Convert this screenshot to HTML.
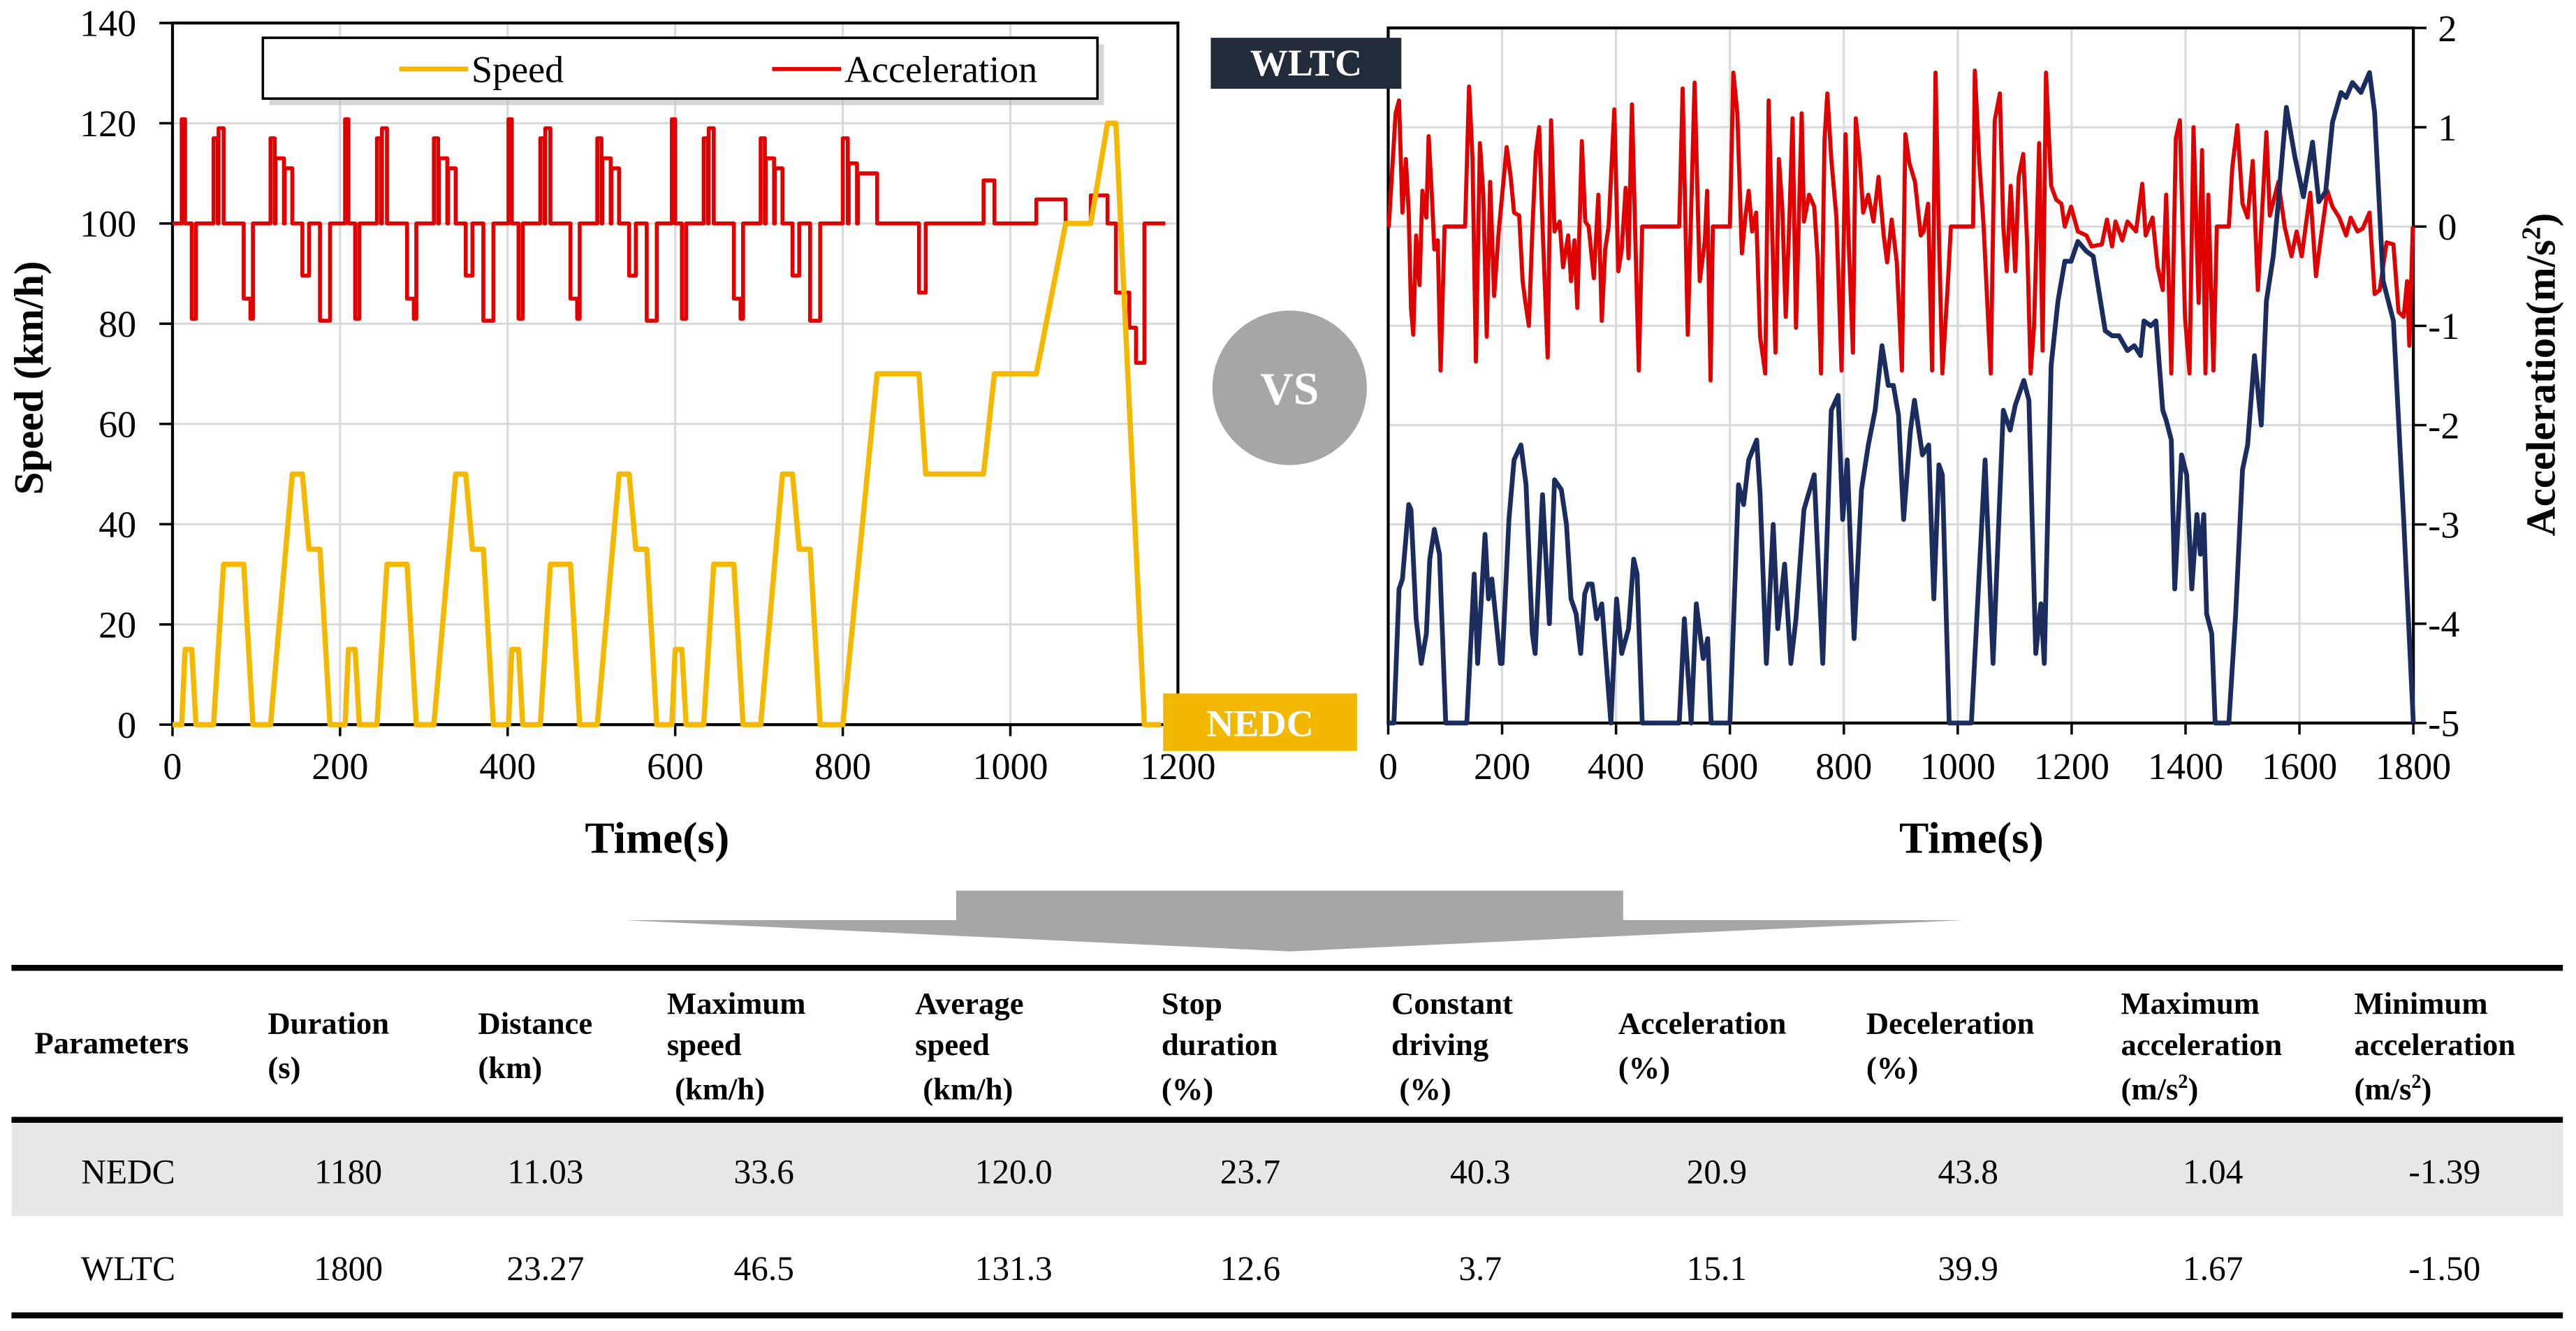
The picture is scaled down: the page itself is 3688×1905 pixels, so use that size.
<!DOCTYPE html>
<html><head><meta charset="utf-8"><style>
html,body{margin:0;padding:0;background:#fff}
svg{display:block;font-family:"Liberation Serif","DejaVu Serif",serif}
svg text{font-family:"Liberation Serif","DejaVu Serif",serif}
</style></head><body>
<svg id="fig" xmlns="http://www.w3.org/2000/svg" width="3688" height="1905" viewBox="0 0 1568 810" preserveAspectRatio="none" font-family="Liberation Serif, DejaVu Serif, serif">
<g id="left"></g>
<g id="right"></g>
<g id="mid">
  <rect x="737" y="23" width="116" height="31" fill="#222b3a"/>
  <text x="795" y="46" text-anchor="middle" font-size="23" font-weight="bold" fill="#fff">WLTC</text>
  <ellipse cx="785" cy="236" rx="47" ry="47" fill="#a6a6a6"/>
  <text x="785" y="246" text-anchor="middle" font-size="28" font-weight="bold" fill="#fff">VS</text>
  <polygon points="582,542 988,542 988,560 1195,560 785,579 380,560 582,560" fill="#a6a6a6"/>
</g>
<g id="table"></g>
</svg>
<script>
// ---------- DATA ----------
const nedcTimes = [0,11,15,23,28,49,61,85,96,117,143,155,163,176,188,195,
 206,210,218,223,244,256,280,291,312,338,350,358,371,383,390,
 401,405,413,418,439,451,475,486,507,533,545,553,566,578,585,
 596,600,608,613,634,646,670,681,702,728,740,748,761,773,780,
 800,841,891,899,968,981,1031,1066,1096,1116,1126,1160,1180];
const nedcSpeed = [0,0,15,15,0,0,32,32,0,0,50,50,35,35,0,0,
 0,15,15,0,0,32,32,0,0,50,50,35,35,0,0,
 0,15,15,0,0,32,32,0,0,50,50,35,35,0,0,
 0,15,15,0,0,32,32,0,0,50,50,35,35,0,0,
 0,70,70,50,50,70,70,100,100,120,120,0,0];
const nedcAccT = [0,11,15,23,28,49,54,55,61,85,93,96,117,122,123,133,134,143,155,163,176,188,
 206,210,218,223,244,249,250,256,280,288,291,312,317,318,328,329,338,350,358,371,383,
 401,405,413,418,439,444,445,451,475,483,486,507,512,513,523,524,533,545,553,566,578,
 596,600,608,613,634,639,640,646,670,678,681,702,707,708,718,719,728,740,748,761,773,
 800,806,807,817,818,841,891,899,968,981,1031,1066,1096,1116,1126,1142,1150,1160,1185];
const nedcAcc = [0,1.04,0,-0.95,0,0.85,0,0.95,0,-0.75,-0.95,0,0.85,0,0.65,0,0.55,0,-0.52,0,-0.97,0,
 1.04,0,-0.95,0,0.85,0,0.95,0,-0.75,-0.95,0,0.85,0,0.65,0,0.55,0,-0.52,0,-0.97,0,
 1.04,0,-0.95,0,0.85,0,0.95,0,-0.75,-0.95,0,0.85,0,0.65,0,0.55,0,-0.52,0,-0.97,0,
 1.04,0,-0.95,0,0.85,0,0.95,0,-0.75,-0.95,0,0.85,0,0.65,0,0.55,0,-0.52,0,-0.97,0,
 0.85,0,0.6,0,0.5,0,-0.69,0,0.43,0,0.24,0,0.28,0,-0.69,-1.04,-1.39,0,0];
const wltcTimes = [0,10,19,25,36,40,49,52,58,67,73,81,90,101,138,151,157,170,176,182,197,200,212,221,233,242,253,258,271,283,292,304,313,321,330,338,345,351,358,366,375,391,401,410,422,431,437,446,511,520,532,541,553,561,567,600,615,624,633,647,653,664,676,684,696,707,716,730,748,763,778,790,798,806,818,831,843,855,867,878,887,896,905,917,924,938,949,958,967,973,985,1024,1048,1062,1080,1092,1101,1116,1125,1137,1146,1152,1164,1176,1188,1199,1211,1226,1238,1259,1271,1283,1298,1310,1321,1327,1339,1348,1360,1366,1375,1381,1393,1402,1411,1420,1426,1432,1437,1446,1452,1476,1488,1500,1509,1521,1533,1542,1554,1563,1577,1592,1607,1623,1634,1646,1658,1673,1682,1693,1708,1723,1732,1747,1765,1783,1800];
const wltcSpeed = [0,0,27,29,44,43,21,18,12,18,33,39,34,0,0,30,12,38,25,29,12,12,41,53,56,48,18,14,46,20,49,47,40,25,22,14,26,28,28,21,24,0,25,14,19,33,30,0,0,21,0,24,13,17,0,0,48,44,53,57,46,12,40,19,32,12,21,43,50,12,63,66,41,53,17,47,56,63,76,68,68,62,41,59,65,54,56,25,52,50,0,0,53,12,63,59,64,69,65,14,24,12,72,85,93,93,97,95,94,79,78,78,75,76,74,81,80,81,63,61,57,27,54,50,27,42,34,42,22,18,0,0,22,51,56,74,60,85,94,105,124,114,106,117,105,107,121,127,126,129,127,131,123,89,81,41,0];
const wltcAccT = [0,1,13,19,25,31,36,40,44,49,55,60,67,71,77,81,87,92,99,135,142,148,154,161,167,173,179,186,194,208,215,221,230,236,241,247,253,259,265,271,280,286,292,301,307,316,321,327,332,340,346,352,361,369,375,381,387,397,404,410,417,422,428,434,440,446,511,517,526,538,547,556,560,566,570,600,606,613,621,627,633,639,646,653,662,668,674,680,686,692,698,704,710,716,726,730,739,748,754,760,766,771,778,787,796,803,809,816,821,828,834,843,852,861,870,876,884,893,902,908,915,925,935,940,948,955,961,967,973,982,988,1027,1030,1038,1045,1058,1065,1074,1080,1086,1093,1101,1107,1115,1122,1128,1134,1143,1149,1155,1164,1173,1182,1188,1199,1211,1226,1235,1253,1262,1271,1277,1289,1298,1313,1324,1330,1342,1351,1360,1366,1375,1383,1390,1399,1407,1414,1423,1429,1435,1440,1449,1455,1476,1482,1491,1500,1509,1518,1527,1542,1548,1563,1574,1586,1595,1604,1613,1619,1629,1637,1649,1658,1670,1682,1690,1702,1711,1723,1732,1741,1753,1765,1774,1783,1789,1793,1799];
const wltcAcc = [0,0,1.14,1.27,0.14,0.68,0.14,-0.82,-1.09,-0.09,-0.59,0.36,0.09,0.91,0.27,-0.23,-0.14,-1.45,0,0,1.41,0.68,-1.36,0.84,0.32,-1.11,0.45,-0.70,-0.05,0.80,0.50,0.14,0.11,-0.55,-0.77,-1.00,-0.05,0.73,1.00,0,-1.32,1.07,-0.05,0.05,-0.41,-0.09,-0.55,-0.14,-0.82,0.86,0.05,0,-0.52,0.32,-0.95,-0.23,0,1.18,-0.45,-0.23,0.39,-0.32,1.23,-0.14,-1.45,0,0,1.39,-1.09,1.45,-0.55,-0.14,0.36,-1.55,0,0,1.55,1.14,-0.27,0.09,0.36,-0.05,0.14,-1.11,-1.48,1.27,0,-1.27,0.68,0.18,-0.91,0,1.09,-1.02,1.14,0.05,0.32,0.20,-0.32,-1.48,0.86,1.34,0.68,0.09,-1.45,0.93,-0.23,-1.27,1.09,0.68,0.14,0.32,0.05,0.50,-0.09,-0.36,0.07,-0.36,-1.45,0.93,0.64,0.45,-0.09,-0.05,0.23,-1.45,1.55,-0.09,-1.48,-0.64,0,0,1.57,0.64,0.05,-1.48,1.07,1.34,0,-0.45,0.41,-0.45,0.50,0.73,-0.18,-1.48,-1.00,0.84,-1.25,1.55,0.41,0.27,0.23,0,0.20,-0.05,-0.09,-0.20,-0.18,0.07,-0.20,0.05,-0.14,0.05,-0.05,0.43,-0.09,0.09,-0.41,-0.64,0.32,-1.48,0.89,1.07,-0.91,-1.48,1.00,-0.77,0.77,-1.48,0.32,-1.45,0,0,0.59,1.02,0.23,0.09,0.66,-0.64,0.95,0.11,0.45,0,-0.30,-0.05,-0.30,0.09,0.34,-0.50,-0.14,0.36,0.20,0.09,-0.09,0.09,-0.05,-0.02,0.14,-0.68,-0.64,-0.16,-0.18,-0.86,-0.91,-0.55,-1.20,0];
const leftYTicks = [0,20,40,60,80,100,120,140];
const leftXTicks = [0,200,400,600,800,1000,1200];
const rightYTicks = [-5,-4,-3,-2,-1,0,1,2];
const rightXTicks = [0,200,400,600,800,1000,1200,1400,1600,1800];
const tableHeaders = [["Parameters"],["Duration","(s)"],["Distance","(km)"],["Maximum","speed"," (km/h)"],["Average","speed"," (km/h)"],["Stop","duration","(%)"],["Constant","driving"," (%)"],["Acceleration","(%)"],["Deceleration","(%)"],["Maximum","acceleration","(m/s²)"],["Minimum","acceleration","(m/s²)"]];
const nedcRow = ["NEDC","1180","11.03","33.6","120.0","23.7","40.3","20.9","43.8","1.04","-1.39"];
const wltcRow = ["WLTC","1800","23.27","46.5","131.3","12.6","3.7","15.1","39.9","1.67","-1.50"];

// ---------- HELPERS ----------
const NS="http://www.w3.org/2000/svg";
const FF="Liberation Serif, DejaVu Serif, serif";
function mk(parent,tag,attrs,txt){const e=document.createElementNS(NS,tag);for(const k in attrs)e.setAttribute(k,attrs[k]);if(tag==='text')e.setAttribute('font-family',FF);if(txt!==undefined)e.textContent=txt;parent.appendChild(e);return e;}

// ---------- LEFT CHART ----------
(function(){
 const g=document.getElementById('left');
 const X0=105,X1=717,Y0=441,Y1=14;
 const xs=t=>X0+(t/1200)*(X1-X0), ys=v=>Y0-(v/140)*(Y0-Y1);
 const accToV=a=>100+a*20;
 leftXTicks.forEach(t=>{if(t>0&&t<1200){const l=mk(g,'line',{x1:xs(t),x2:xs(t),y1:Y1,y2:Y0,stroke:'#d9d9d9','stroke-width':1.3});
 
 }});
 leftYTicks.forEach(v=>{if(v>0&&v<140){const l=mk(g,'line',{x1:X0,x2:X1,y1:ys(v),y2:ys(v),stroke:'#d9d9d9','stroke-width':1.3});
 
 }});
 const fr=mk(g,'rect',{x:X0,y:Y1,width:X1-X0,height:Y0-Y1,fill:'none',stroke:'#000','stroke-width':1.8});
 
 
 leftYTicks.forEach(v=>{const tk=mk(g,'line',{x1:X0-8,x2:X0,y1:ys(v),y2:ys(v),stroke:'#000','stroke-width':1.5});
 
 
 const t=mk(g,'text',{x:83,y:ys(v)+8,'text-anchor':'end','font-size':23},String(v));
 
 });
 leftXTicks.forEach(v=>{const tk=mk(g,'line',{x1:xs(v),x2:xs(v),y1:Y0,y2:Y0+7,stroke:'#000','stroke-width':1.5});
 
 
 const t=mk(g,'text',{x:xs(v),y:474,'text-anchor':'middle','font-size':23},String(v));
 
 });
 let d='';nedcAccT.forEach((t,i)=>{const y=ys(accToV(nedcAcc[i]));d+=(i?'L':'M')+xs(t)+','+(i?ys(accToV(nedcAcc[i-1])):y);d+='L'+xs(t)+','+y;});
 const ac=mk(g,'path',{d:d,fill:'none',stroke:'#e00000','stroke-width':2.4,'stroke-linejoin':'round'});
 
 
 const sp=mk(g,'polyline',{points:nedcTimes.map((t,i)=>xs(t)+','+ys(nedcSpeed[i])).join(' '),fill:'none',stroke:'#f5b800','stroke-width':3.2,'stroke-linejoin':'round'});
 
 
 const yt=mk(g,'text',{x:0,y:0,transform:'translate(26,230) rotate(-90)','text-anchor':'middle','font-size':25,'font-weight':'bold'},'Speed (km/h)');
 
 
 const xt=mk(g,'text',{x:400,y:519,'text-anchor':'middle','font-size':27,'font-weight':'bold'},'Time(s)');
 
 
 const lg=mk(g,'g',{});
 
 
 mk(lg,'rect',{x:164,y:27,width:508,height:37,fill:'#bbb',opacity:0.6});
 mk(lg,'rect',{x:160,y:23,width:508,height:37,fill:'#fff',stroke:'#000','stroke-width':1.5});
 const e1=mk(lg,'line',{x1:243,x2:285,y1:42,y2:42,stroke:'#f5b800','stroke-width':3});
 
 
 const t1=mk(lg,'text',{x:287,y:50,'font-size':23},'Speed');
 
 
 const e2=mk(lg,'line',{x1:470,x2:512,y1:42,y2:42,stroke:'#e00000','stroke-width':2.5});
 
 
 const t2=mk(lg,'text',{x:514,y:50,'font-size':23},'Acceleration');
 
 
 const nb=mk(g,'rect',{x:708,y:422,width:118,height:35,fill:'#f2b800'});
 
 
 const nt=mk(g,'text',{x:767,y:448,'text-anchor':'middle','font-size':23,'font-weight':'bold',fill:'#fff'},'NEDC');
 
 
})();

// ---------- RIGHT CHART ----------
(function(){
 const g=document.getElementById('right');
 const X0=845,X1=1469,Y0=440,Y1=17;
 const xs=t=>X0+(t/1800)*(X1-X0), ya=a=>Y0-((a+5)/7)*(Y0-Y1), yv=v=>Y0-(v/140)*(Y0-Y1);
 rightXTicks.forEach(t=>{if(t>0&&t<1800){const l=mk(g,'line',{x1:xs(t),x2:xs(t),y1:Y1,y2:Y0,stroke:'#d9d9d9','stroke-width':1.3});
 
 }});
 rightYTicks.forEach(v=>{if(v>-5&&v<2){const l=mk(g,'line',{x1:X0,x2:X1,y1:ya(v),y2:ya(v),stroke:'#d9d9d9','stroke-width':1.3});
 
 }});
 const fr=mk(g,'rect',{x:X0,y:Y1,width:X1-X0,height:Y0-Y1,fill:'none',stroke:'#000','stroke-width':1.8});
 
 
 rightYTicks.forEach(v=>{const tk=mk(g,'line',{x1:X1,x2:X1+8,y1:ya(v),y2:ya(v),stroke:'#000','stroke-width':1.5});
 
 
 const t=mk(g,'text',{x:v<0?1478:1484,y:ya(v)+8,'font-size':23},String(v));
 
 });
 rightXTicks.forEach(v=>{const tk=mk(g,'line',{x1:xs(v),x2:xs(v),y1:Y0,y2:Y0+7,stroke:'#000','stroke-width':1.5});
 
 
 const t=mk(g,'text',{x:xs(v),y:474,'text-anchor':'middle','font-size':23},String(v));
 
 });
 const ac=mk(g,'polyline',{points:wltcAccT.map((t,i)=>xs(t)+','+ya(wltcAcc[i])).join(' '),fill:'none',stroke:'#e00000','stroke-width':2.5,'stroke-linejoin':'round'});
 
 
 const sp=mk(g,'polyline',{points:wltcTimes.map((t,i)=>xs(t)+','+yv(wltcSpeed[i])).join(' '),fill:'none',stroke:'#1b2c5e','stroke-width':2.9,'stroke-linejoin':'round'});
 
 
 const yt=mk(g,'text',{x:0,y:0,transform:'translate(1555,228) rotate(-90)','text-anchor':'middle','font-size':25,'font-weight':'bold'});
 yt.innerHTML='Acceleration(m/s<tspan dy="-9" font-size="16">2</tspan><tspan dy="9">)</tspan>';
 
 
 const xt=mk(g,'text',{x:1200,y:519,'text-anchor':'middle','font-size':27,'font-weight':'bold'},'Time(s)');
 
 
})();

// ---------- TABLE ----------
(function(){
 const g=document.getElementById('table');
 const colX=[21,163,291,406,557,707,847,985,1136,1291,1433];
 const valX=[78,212,332,465,617,761,901,1045,1198,1347,1488];
 const band=mk(g,'rect',{x:7,y:683,width:1553,height:57,fill:'#e7e7e7'});
 
 
 [589,681.5,800.5].forEach(y=>{const l=mk(g,'line',{x1:7,x2:1560,y1:y,y2:y,stroke:'#000','stroke-width':3.6});
 
 });
 const base={1:[641],2:[629,656],3:[617,642,669]};
 tableHeaders.forEach((lines,i)=>{const ys=base[lines.length];
  const t=mk(g,'text',{'font-size':19,'font-weight':'bold'});
  
  
  lines.forEach((s,j)=>{const ts=mk(t,'tspan',{x:colX[i],y:ys[j]});
   if(s.indexOf('²')>=0){ts.textContent=s.replace('²)','');mk(ts,'tspan',{dy:-7,'font-size':12},'2');mk(ts,'tspan',{dy:7},')');}
   else ts.textContent=s;});
 });
 [[nedcRow,720],[wltcRow,779]].forEach(([row,y])=>{row.forEach((s,i)=>{const t=mk(g,'text',{x:valX[i],y:y,'text-anchor':'middle','font-size':21},s);
  
  });});
})();
</script>
</body></html>
